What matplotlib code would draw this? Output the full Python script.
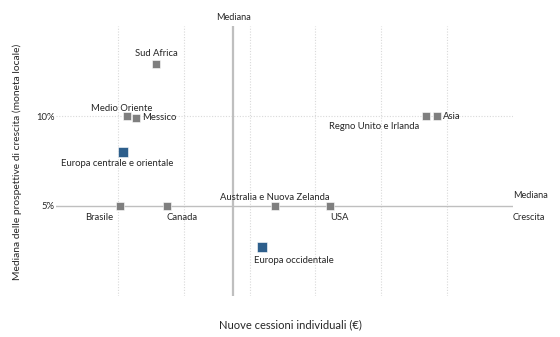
import matplotlib.pyplot as plt

plt.rcParams['font.family'] = ['Lato', 'DejaVu Sans']

# Regioni: crescita clienti (asse x, scala relativa) e crescita mediana (%)
regioni = ['Sud Africa', 'Medio Oriente', 'Messico', 'Europa centrale e orientale',
           'Brasile', 'Canada', 'Australia e Nuova Zelanda', 'USA',
           'Europa occidentale', 'Regno Unito e Irlanda', 'Asia']
cessioni = [1.58, 1.14, 1.27, 1.08, 1.03, 1.74, 3.39, 4.22, 3.19, 5.68, 5.85]
crescita = [12.9, 10.0, 9.9, 8.0, 5.0, 5.0, 5.0, 5.0, 2.7, 10.0, 10.0]
evidenziate = ['Europa centrale e orientale', 'Europa occidentale']

mediana_x = 2.75
mediana_y = 5.0

# posizione etichette (dx, dy in punti, ha, va)
etichette = {
    'Sud Africa': (0, 4, 'center', 'bottom'),
    'Medio Oriente': (-4, 2, 'center', 'bottom'),
    'Messico': (5, 0, 'left', 'center'),
    'Europa centrale e orientale': (-4, -5, 'center', 'top'),
    'Brasile': (-5, -5, 'right', 'top'),
    'Canada': (0, -5, 'left', 'top'),
    'Australia e Nuova Zelanda': (0, 3, 'center', 'bottom'),
    'USA': (0, -5, 'left', 'top'),
    'Europa occidentale': (-6, -6, 'left', 'top'),
    'Regno Unito e Irlanda': (-5, -4, 'right', 'top'),
    'Asia': (4, 0, 'left', 'center'),
}

grigio = '#7f7f7f'
blu = '#2e5f8c'
testo = '#262626'

fig = plt.figure(figsize=(5.6, 3.37), dpi=100)
ax = fig.add_axes([0.1, 0.1217, 0.816, 0.8011])
ax.set_xlim(0.06, 7)
ax.set_ylim(0, 15)

for x in range(1, 7):
    ax.axvline(x, color='#d9d9d9', lw=0.8, ls=(0, (1, 1.5)), zorder=0)
ax.axhline(10, color='#d9d9d9', lw=0.8, ls=(0, (1, 1.5)), zorder=0)
ax.axhline(mediana_y, color='#bfbfbf', lw=1.0, zorder=1)
ax.axvline(mediana_x, color='#bfbfbf', lw=1.6, zorder=1)

for nome, x, y in zip(regioni, cessioni, crescita):
    if nome in evidenziate:
        ax.scatter(x, y, marker='s', s=45, color=blu, edgecolor='white', lw=0.4, zorder=3)
    else:
        ax.scatter(x, y, marker='s', s=27, color=grigio, edgecolor='white', lw=0.4, zorder=3)
    dx, dy, ha, va = etichette[nome]
    ax.annotate(nome, (x, y), xytext=(dx, dy), textcoords='offset points',
                ha=ha, va=va, fontsize=6.8, color=testo)

ax.annotate('Mediana', (mediana_x, 15), xytext=(0, 3), textcoords='offset points',
            ha='center', va='bottom', fontsize=6.6, color=testo)
ax.annotate('Mediana', (7, mediana_y), xytext=(0, 4), textcoords='offset points',
            ha='left', va='bottom', fontsize=6.6, color=testo)
ax.annotate('Crescita', (7, mediana_y), xytext=(0, -5), textcoords='offset points',
            ha='left', va='top', fontsize=6.6, color=testo)

ax.set_xticks([])
ax.set_yticks([5, 10])
ax.set_yticklabels(['5%', '10%'], fontsize=6.8, color=testo)
ax.tick_params(axis='y', length=0, pad=1)
for s in ax.spines.values():
    s.set_visible(False)

fig.text(290 / 560, 1 - 325 / 337, 'Nuove cessioni individuali (€)', fontsize=8,
         color=testo, ha='center', va='center')
fig.text(17 / 560, 1 - 162 / 337, 'Mediana delle prospettive di crescita (moneta locale)',
         fontsize=7.4, color=testo, ha='center', va='center', rotation=90)

fig.savefig('out.png', dpi=100)
